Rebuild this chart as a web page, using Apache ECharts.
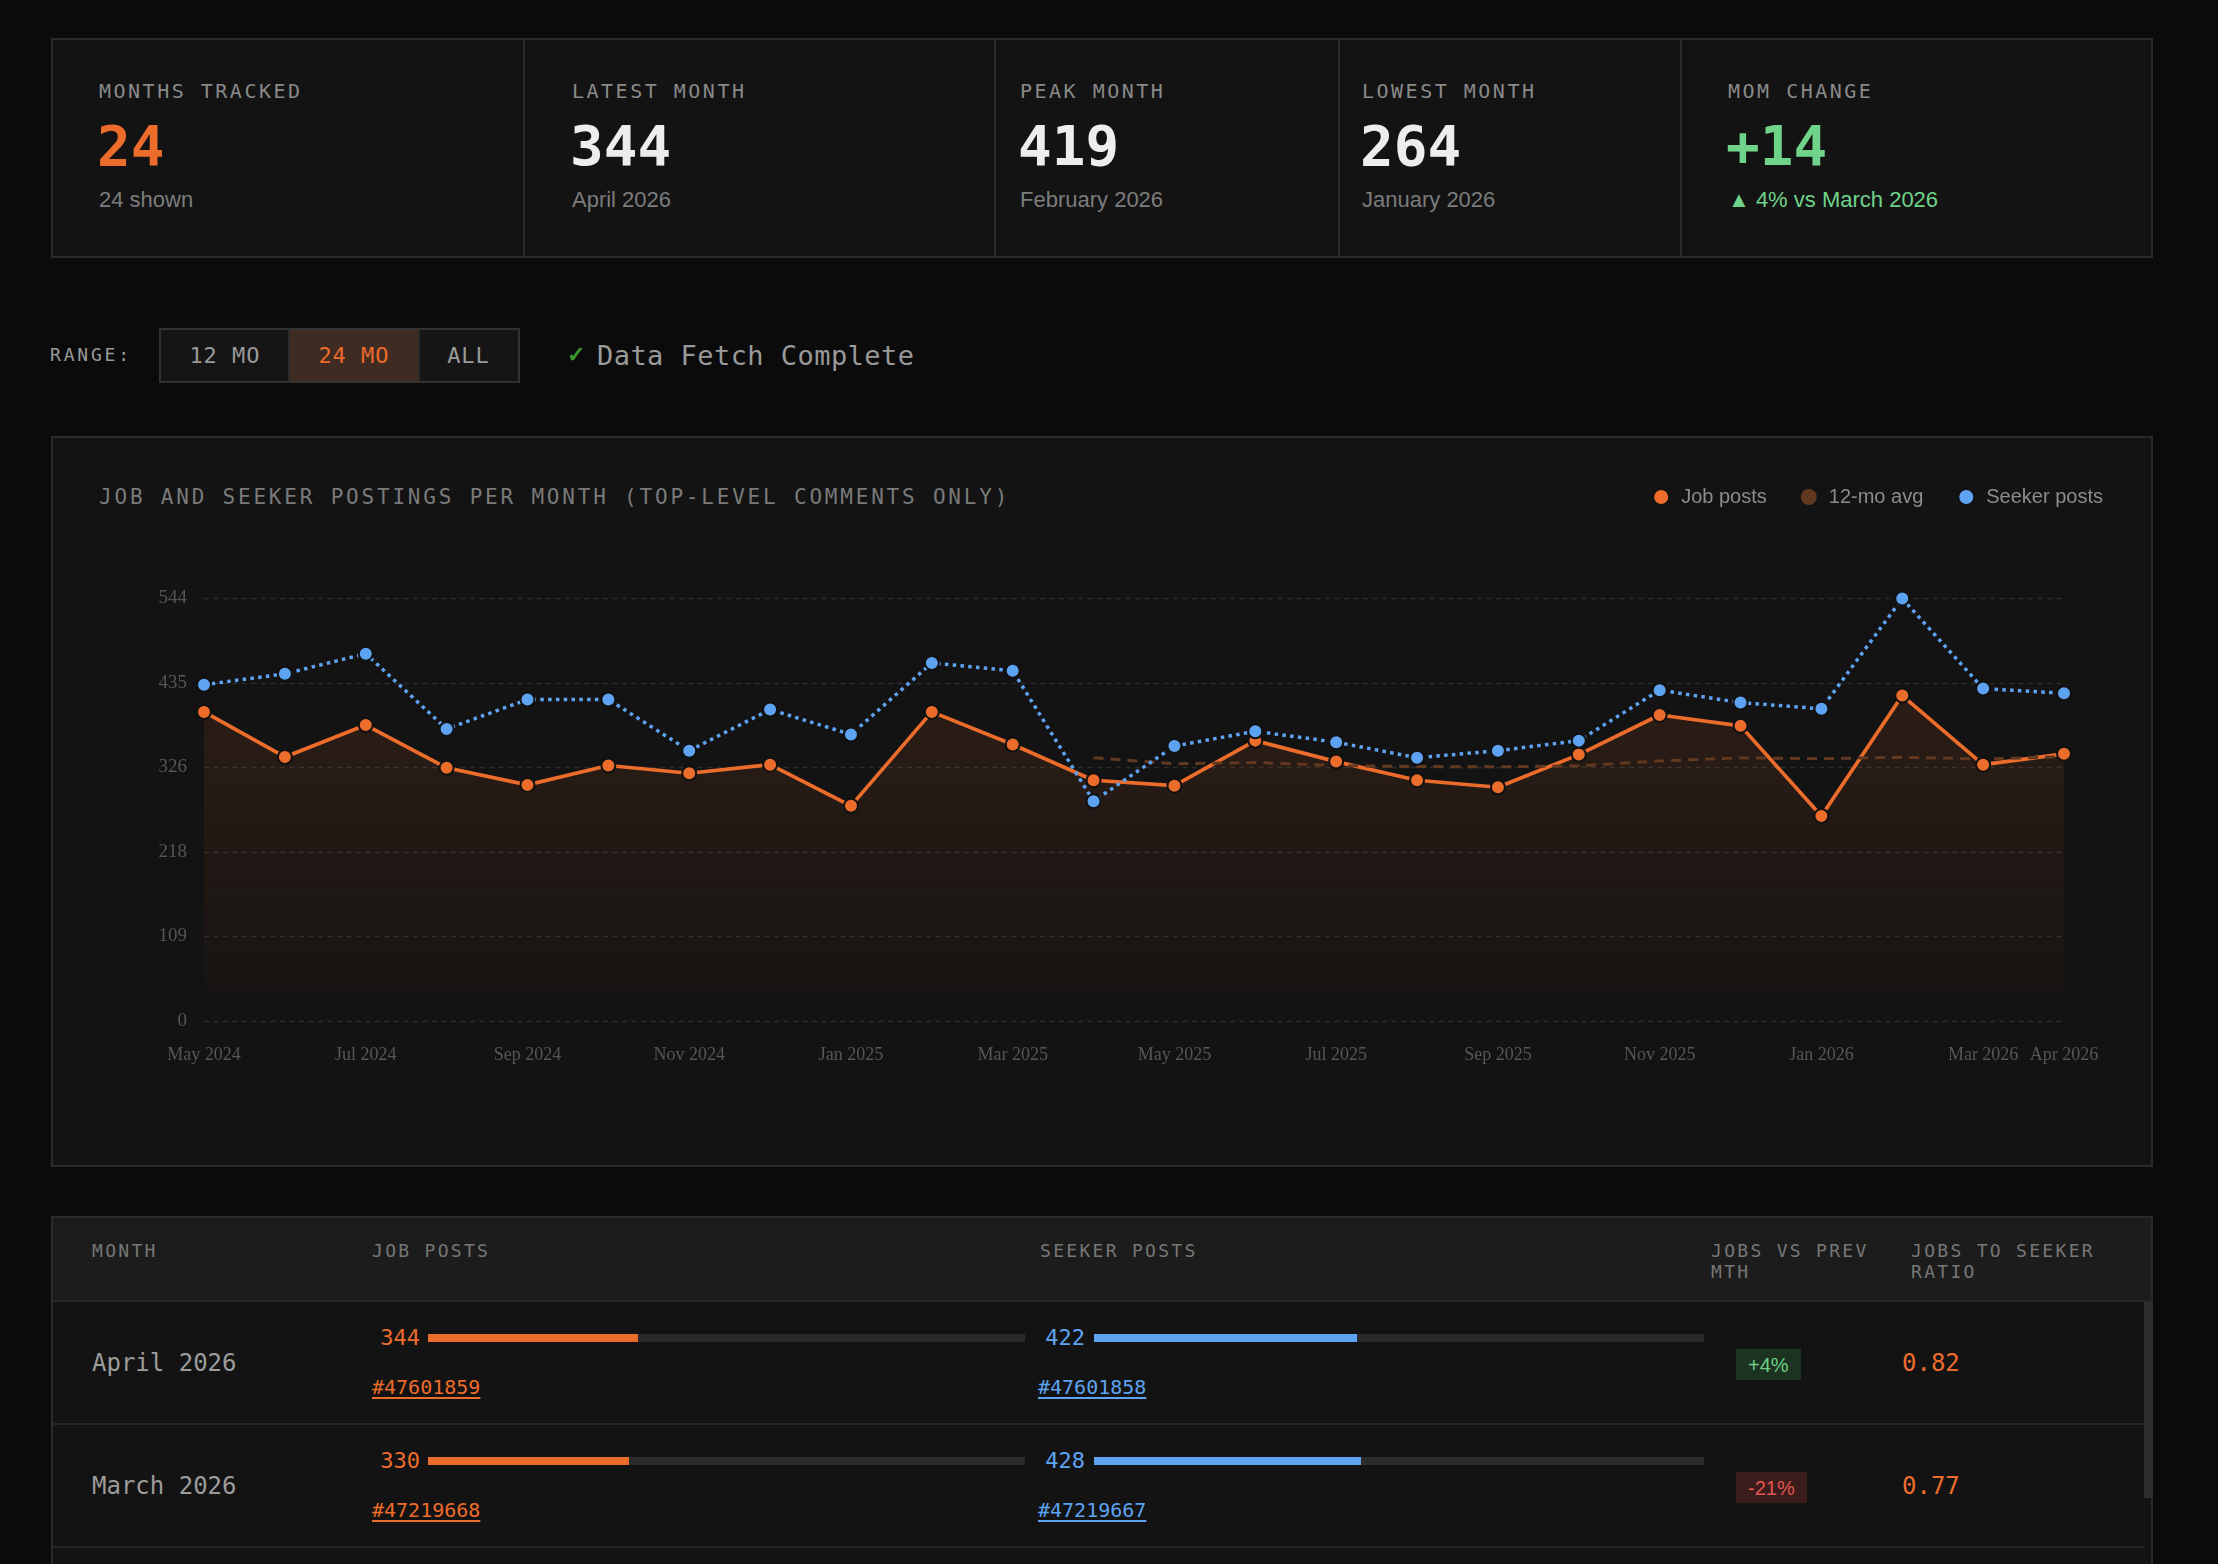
<!DOCTYPE html>
<html><head><meta charset="utf-8">
<script src="https://cdn.jsdelivr.net/npm/echarts@6/dist/echarts.min.js"></script>
<style>
html,body{margin:0;padding:0;background:#0b0b0b;width:2218px;height:1564px;overflow:hidden;}
.abs{position:absolute;white-space:nowrap;line-height:1;}
.mono{font-family:"DejaVu Sans Mono",monospace;}
.sans{font-family:"Liberation Sans",Arial,sans-serif;}
.panel{position:absolute;box-sizing:border-box;border:2px solid #2a2a2a;background:#131313;}
</style>
</head><body>
<div id="root"></div>
<div id="chart" style="position:absolute;left:53px;top:438px;width:2098px;height:727px;"></div>
<script>
// ---------------- data ----------------
const months = ['May 2024','Jun 2024','Jul 2024','Aug 2024','Sep 2024','Oct 2024','Nov 2024','Dec 2024','Jan 2025','Feb 2025','Mar 2025','Apr 2025','May 2025','Jun 2025','Jul 2025','Aug 2025','Sep 2025','Oct 2025','Nov 2025','Dec 2025','Jan 2026','Feb 2026','Mar 2026','Apr 2026'];
const jobPosts = [398,340,381,326,304,329,319,330,277,398,356,310,303,361,334,310,301,343,394,380,264,419,330,344];
const seekerPosts = [433,447,473,376,414,414,348,401,369,461,451,283,354,373,359,339,348,361,426,410,402,544,428,422];
const jobAvg12 = [null,null,null,null,null,null,null,null,null,null,null,339.0,331.1,332.8,328.9,327.6,327.3,328.5,334.8,338.9,337.8,339.6,337.4,340.3];
const yTickLabels = [0,109,218,326,435,544];
const jobThreadIds = {'Apr 2026':'47601859','Mar 2026':'47219668'};
const seekerThreadIds = {'Apr 2026':'47601858','Mar 2026':'47219667'};
const barScaleMax = 978;
const rangeOptions = ['12 MO','24 MO','ALL'];
const fullMonth = {Jan:'January',Feb:'February',Mar:'March',Apr:'April',May:'May',Jun:'June',Jul:'July',Aug:'August',Sep:'September',Oct:'October',Nov:'November',Dec:'December'};

// ---------------- colors ----------------
const ORANGE = '#ec6c2c', BLUE = '#5ea3f2', BROWN = '#633820', GREEN = '#6fd38a';

const root = document.getElementById('root');
function add(html, css, cls){
  const d = document.createElement('div');
  d.className = 'abs ' + (cls||'');
  d.style.cssText = css;
  d.innerHTML = html;
  root.appendChild(d);
  return d;
}
function panel(css){ const d=document.createElement('div'); d.className='panel'; d.style.cssText=css; root.appendChild(d); return d; }
function full(m){ const [a,y]=m.split(' '); return fullMonth[a]+' '+y; }

// ---------------- KPI cards ----------------
panel('left:51px;top:38px;width:2102px;height:220px;');
[523,994,1338,1680].forEach(x=>add('', `left:${x}px;top:40px;width:2px;height:216px;background:#2a2a2a;`));
const n = months.length;
const latest = jobPosts[n-1], prev = jobPosts[n-2];
let pi=0, li=0;
jobPosts.forEach((v,i)=>{ if(v>jobPosts[pi]) pi=i; if(v<jobPosts[li]) li=i; });
const diff = latest-prev;
const pct = Math.round(Math.abs(diff)/prev*100);
const kpis = [
  {x:99, label:'MONTHS TRACKED', value:String(n), color:ORANGE, sub:n+' shown', subColor:'#7c7c7c'},
  {x:572, label:'LATEST MONTH', value:String(latest), color:'#ededed', sub:full(months[n-1]), subColor:'#7c7c7c'},
  {x:1020, label:'PEAK MONTH', value:String(jobPosts[pi]), color:'#ededed', sub:full(months[pi]), subColor:'#7c7c7c'},
  {x:1362, label:'LOWEST MONTH', value:String(jobPosts[li]), color:'#ededed', sub:full(months[li]), subColor:'#7c7c7c'},
  {x:1728, label:'MOM CHANGE', value:(diff>=0?'+':'')+diff, color:GREEN, sub:(diff>=0?'▲':'▼')+' '+pct+'% vs '+full(months[n-2]), subColor:GREEN}
];
kpis.forEach(k=>{
  add(k.label, `left:${k.x}px;top:81px;font-size:20px;letter-spacing:2.5px;color:#8a8a8a;`, 'mono');
  add(k.value, `left:${k.x-2}px;top:118px;font-size:56px;font-weight:bold;color:${k.color};`, 'mono');
  add(k.sub, `left:${k.x}px;top:189px;font-size:22px;color:${k.subColor};`, 'sans');
});

// ---------------- range row ----------------
add('RANGE:', 'left:50px;top:346px;font-size:18px;letter-spacing:2.8px;color:#9a9a9a;', 'mono');
add('', 'left:159px;top:328px;width:361px;height:55px;box-sizing:border-box;border:2px solid #333;background:#151515;');
const btnX = [[161,289],[289,419],[419,518]];
rangeOptions.forEach((t,i)=>{
  const [a,b] = btnX[i];
  const active = i===1;
  add(`<div style="width:${b-a}px;height:51px;display:flex;align-items:center;justify-content:center;">${t}</div>`,
    `left:${a}px;top:330px;font-size:22px;letter-spacing:1px;color:${active?ORANGE:'#9a9a9a'};background:${active?'#3f2b22':'transparent'};`, 'mono');
  if(i>0) add('', `left:${a-1}px;top:330px;width:2px;height:51px;background:#2a2a2a;`);
});
add('✓', 'left:567px;top:344px;font-size:22px;color:#3f9a2e;font-weight:bold;', 'sans');
add('Data Fetch Complete', 'left:597px;top:342px;font-size:27px;letter-spacing:0.45px;color:#9a9a9a;', 'mono');

// ---------------- chart panel ----------------
panel('left:51px;top:436px;width:2102px;height:731px;');
add('JOB AND SEEKER POSTINGS PER MONTH (TOP-LEVEL COMMENTS ONLY)', 'left:99px;top:487px;font-size:21px;letter-spacing:2.8px;color:#7a7a7a;', 'mono');

// ---------------- table ----------------
panel('left:51px;top:1216px;width:2102px;height:420px;background:#131313;');
add('', 'left:53px;top:1218px;width:2098px;height:82px;background:#1c1c1c;');
add('', 'left:53px;top:1300px;width:2098px;height:2px;background:#262626;');
const hdr = [[92,'MONTH',300],[372,'JOB POSTS',300],[1040,'SEEKER POSTS',300],[1711,'JOBS VS PREV MTH',185],[1911,'JOBS TO SEEKER RATIO',200]];
hdr.forEach(([x,t,w])=>add(t, `left:${x}px;top:1240px;width:${w}px;white-space:normal;line-height:21px;font-size:18px;letter-spacing:2.3px;color:#777;`, 'mono'));
add('', 'left:2144px;top:1302px;width:9px;height:196px;background:#2e2e2e;');
for(let k=0;k<3;k++){
  const i = n-1-k;
  const t0 = 1302 + k*123;
  const m = months[i];
  add('', `left:53px;top:${t0+121}px;width:2091px;height:2px;background:#262626;`);
  add(full(m), `left:92px;top:${t0+49}px;font-size:24px;color:#9c9c9c;`, 'mono');
  // job
  add(String(jobPosts[i]), `left:300px;width:120px;text-align:right;top:${t0+25}px;font-size:22px;color:${ORANGE};`, 'mono');
  add('', `left:428px;top:${t0+32}px;width:597px;height:8px;background:#2a2a2a;`);
  add('', `left:428px;top:${t0+32}px;width:${(597*jobPosts[i]/barScaleMax).toFixed(1)}px;height:8px;background:${ORANGE};`);
  if(jobThreadIds[m]) add('#'+jobThreadIds[m], `left:372px;top:${t0+75}px;font-size:20px;color:${ORANGE};text-decoration:underline;text-decoration-thickness:2px;text-underline-offset:3px;`, 'mono');
  // seeker
  add(String(seekerPosts[i]), `left:965px;width:120px;text-align:right;top:${t0+25}px;font-size:22px;color:${BLUE};`, 'mono');
  add('', `left:1094px;top:${t0+32}px;width:610px;height:8px;background:#2a2a2a;`);
  add('', `left:1094px;top:${t0+32}px;width:${(610*seekerPosts[i]/barScaleMax).toFixed(1)}px;height:8px;background:${BLUE};`);
  if(seekerThreadIds[m]) add('#'+seekerThreadIds[m], `left:1038px;top:${t0+75}px;font-size:20px;color:${BLUE};text-decoration:underline;text-decoration-thickness:2px;text-underline-offset:3px;`, 'mono');
  // change badge
  if(i>0){
    const ch = Math.round((jobPosts[i]-jobPosts[i-1])/jobPosts[i-1]*100);
    const up = ch>=0;
    add(`<div style="height:31px;padding:0 12px;display:flex;align-items:center;">${(up?'+':'')+ch}%</div>`,
      `left:1736px;top:${t0+47}px;font-size:20px;color:${up?'#6ccf83':'#e2564f'};background:${up?'#1d3322':'#3b1c1c'};`, 'sans');
  }
  add((jobPosts[i]/seekerPosts[i]).toFixed(2), `left:1902px;top:${t0+49}px;font-size:24px;color:${ORANGE};`, 'mono');
}

// ---------------- chart ----------------
const chart = echarts.init(document.getElementById('chart'), null, {renderer:'canvas'});
const yMax = yTickLabels[yTickLabels.length-1];
const labelFont = {color:'#565656', fontFamily:'"Liberation Serif", serif'};
chart.setOption({
  animation:false,
  backgroundColor:'transparent',
  legend:{
    right:48, top:49, padding:0, icon:'circle', itemWidth:30, itemHeight:16, itemGap:34,
    textStyle:{color:'#8c8c8c', fontSize:20, fontFamily:'"Liberation Sans", Arial, sans-serif'},
    data:['Job posts','12-mo avg','Seeker posts']
  },
  grid:{left:151, right:87, top:160.5, bottom:144},
  xAxis:{
    type:'category', data:months, boundaryGap:false,
    axisLine:{show:false}, axisTick:{show:false}, splitLine:{show:false},
    axisLabel:Object.assign({interval:(i)=> i%2===0 || i===months.length-1, margin:25, fontSize:18}, labelFont)
  },
  yAxis:{
    type:'value', min:0, max:yMax, interval:yMax/(yTickLabels.length-1),
    axisLine:{show:false}, axisTick:{show:false},
    axisLabel:Object.assign({formatter:v=>String(Math.round(v)), margin:17, fontSize:19, padding:[8,0,0,0]}, labelFont),
    splitLine:{lineStyle:{color:'#2c2c2c', width:1.4, type:[5,4.5]}}
  },
  series:[
    {
      name:'Job posts', type:'line', data:jobPosts, symbol:'circle', symbolSize:14,
      lineStyle:{color:ORANGE, width:3.7},
      itemStyle:{color:ORANGE, borderColor:'#111', borderWidth:2},
      areaStyle:{color:new echarts.graphic.LinearGradient(0,0,0,1,[
        {offset:0, color:'rgba(236,108,44,0.17)'},
        {offset:1, color:'rgba(236,108,44,0.01)'}
      ])}
    },
    {
      name:'12-mo avg', type:'line', data:jobAvg12, symbol:'none', connectNulls:false,
      lineStyle:{color:BROWN, width:3, type:[10,7]},
      itemStyle:{color:BROWN}
    },
    {
      name:'Seeker posts', type:'line', data:seekerPosts, symbol:'circle', symbolSize:14,
      lineStyle:{color:BLUE, width:3.5, type:[3.5,4.3]},
      itemStyle:{color:BLUE, borderColor:'#111', borderWidth:2}
    }
  ]
});
</script>
</body></html>
